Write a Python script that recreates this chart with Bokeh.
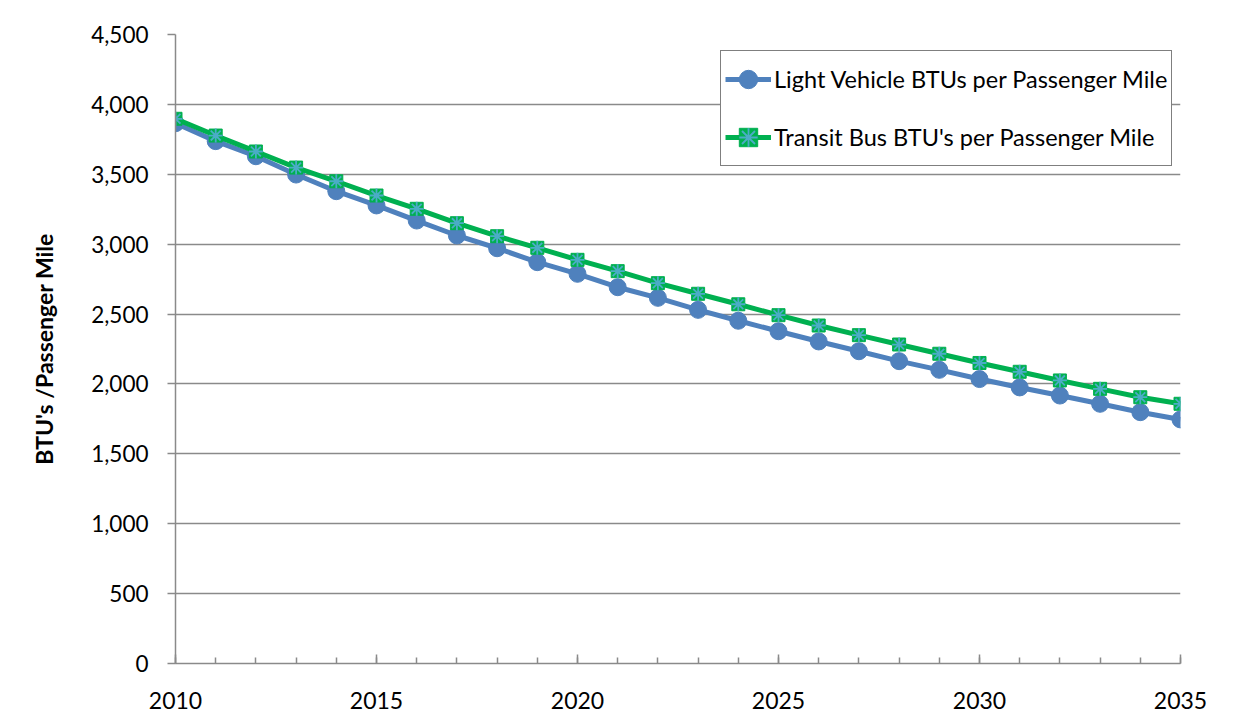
from bokeh.plotting import figure
from bokeh.models import (Range1d, FixedTicker, NumeralTickFormatter, Legend,
                          LegendItem, ColumnDataSource)
from bokeh.embed import file_html
from bokeh.resources import INLINE

years = list(range(2010, 2036))
light_vehicle = [3865, 3737, 3629, 3498, 3379, 3277, 3169, 3062, 2971, 2871,
                 2788, 2692, 2616, 2530, 2452, 2377, 2304, 2234, 2163, 2101,
                 2035, 1975, 1917, 1858, 1798, 1746]
transit_bus = [3897, 3777, 3663, 3548, 3450, 3348, 3253, 3150, 3057, 2974,
               2888, 2807, 2721, 2645, 2570, 2492, 2418, 2349, 2282, 2216,
               2150, 2087, 2025, 1965, 1905, 1858]
y_ticks = [0, 500, 1000, 1500, 2000, 2500, 3000, 3500, 4000, 4500]
x_major = [2010, 2015, 2020, 2025, 2030, 2035]
x_minor = years
series_names = ["Light Vehicle BTUs per Passenger Mile",
                "Transit Bus BTU's per Passenger Mile"]
y_label = "BTU's /Passenger Mile"

FONT = "Lato"
GRID = "#8a8a8a"
BLUE = "#4F81BD"
GREEN = "#00B050"
CYAN = "#4BACC6"

src = ColumnDataSource(dict(x=years, lv=light_vehicle, tb=transit_bus))

p = figure(width=1237, height=720, output_backend="svg", toolbar_location=None,
           x_range=Range1d(2010, 2035), y_range=Range1d(0, 4500),
           min_border_left=175, min_border_right=57, min_border_top=34,
           min_border_bottom=57)
p.outline_line_color = None
p.background_fill_color = "white"
p.border_fill_color = "white"

# axes
p.xaxis.ticker = FixedTicker(ticks=x_major, minor_ticks=x_minor)
p.xaxis.major_tick_in = 9
p.xaxis.major_tick_out = 0
p.xaxis.minor_tick_in = 6
p.xaxis.minor_tick_out = 0
p.xaxis.major_label_standoff = 28
p.xaxis.axis_line_color = GRID
p.xaxis.axis_line_width = 1.5
p.xaxis.major_tick_line_color = GRID
p.xaxis.minor_tick_line_color = GRID
p.xaxis.major_tick_line_width = 1.5
p.xaxis.minor_tick_line_width = 1.5
p.xaxis.major_label_text_font = FONT
p.xaxis.major_label_text_font_size = "23px"
p.xaxis.major_label_text_color = "black"

p.yaxis.ticker = FixedTicker(ticks=y_ticks, minor_ticks=[])
p.yaxis.formatter = NumeralTickFormatter(format="0,0")
p.yaxis.major_tick_in = 0
p.yaxis.major_tick_out = 8
p.yaxis.major_label_standoff = 19
p.yaxis.axis_line_color = GRID
p.yaxis.axis_line_width = 1.5
p.yaxis.major_tick_line_color = GRID
p.yaxis.major_tick_line_width = 1.5
p.yaxis.major_label_text_font = FONT
p.yaxis.major_label_text_font_size = "22.5px"
p.yaxis.major_label_text_color = "black"
p.yaxis.axis_label = y_label
p.yaxis.axis_label_text_font = FONT
p.yaxis.axis_label_text_font_style = "bold"
p.yaxis.axis_label_text_font_size = "23px"
p.yaxis.axis_label_text_color = "black"
p.yaxis.axis_label_standoff = 30

p.xgrid.grid_line_color = None
p.ygrid.grid_line_color = GRID
p.ygrid.grid_line_width = 1.3

# series
l1 = p.line("x", "lv", source=src, line_color=BLUE, line_width=5)
m1 = p.scatter("x", "lv", source=src, marker="circle", size=17,
               fill_color=BLUE, line_color=BLUE)
l2 = p.line("x", "tb", source=src, line_color=GREEN, line_width=5)
m2 = p.scatter("x", "tb", source=src, marker="square", size=13,
               fill_color=GREEN, line_color=GREEN)
m3 = p.scatter("x", "tb", source=src, marker="asterisk", size=14,
               line_color=CYAN, line_width=1.8)

legend = Legend(items=[LegendItem(label=series_names[0], renderers=[l1, m1]),
                       LegendItem(label=series_names[1], renderers=[l2, m2, m3])],
                location=(545, 497), orientation="vertical",
                padding=4, spacing=10, glyph_width=46, glyph_height=48,
                label_height=48, label_standoff=3, margin=0,
                border_line_color="black", border_line_width=1.5,
                background_fill_color="white", background_fill_alpha=1,
                label_text_font=FONT, label_text_font_size="23.5px",
                label_text_color="black")
p.add_layout(legend, "center")

open("out.html", "w").write(file_html(p, INLINE))
